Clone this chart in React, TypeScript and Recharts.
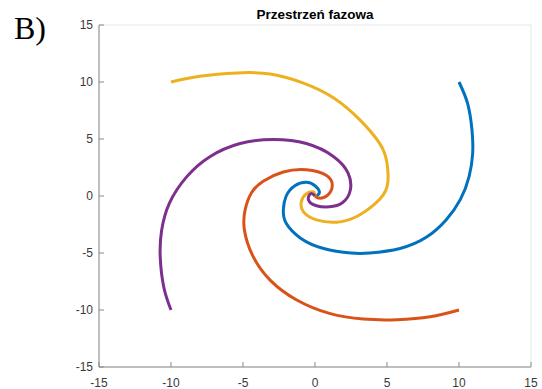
import React from "react";
import {
  LineChart,
  Line,
  XAxis,
  YAxis,
  CartesianGrid,
} from "recharts";

type Pt = { x: number; y: number };

const blueX = [10, 10.6, 10.9, 10.95, 10.7, 10.1, 9.1, 7.75, 5.9, 3.8, 2.5, 0.6, -1.0, -2.0, -2.2, -2.0, -1.4, -0.6, 0.0, 0.3, 0.2, 0];
const blueY = [10, 8.1, 5.8, 3.75, 1.7, -0.3, -2.1, -3.6, -4.6, -5.0, -5.0, -4.6, -3.7, -2.4, -1.2, 0.0, 0.9, 1.2, 0.9, 0.4, 0.1, 0];

const orangeX = [10, 8, 5.7, 3.35, 1.0, -1.3, -3.1, -4.3, -4.9, -4.85, -4.4, -3.6, -2.2, -0.6, 0.8, 1.2, 0.9, 0.35, 0];
const orangeY = [-10, -10.6, -10.85, -10.8, -10.3, -9.1, -7.4, -5.3, -3.0, -1.2, 0.3, 1.3, 2.1, 2.3, 1.8, 0.9, 0.1, -0.2, 0];

const yellowX = [-10, -8, -5.4, -3.1, -0.8, 1.3, 3.1, 4.5, 5.0, 5.0, 4.2, 2.9, 1.5, 0.1, -0.8, -0.95, -0.6, -0.1, 0];
const yellowY = [10, 10.5, 10.8, 10.7, 9.9, 8.6, 6.7, 4.6, 2.9, 0.8, -0.65, -1.8, -2.3, -2.1, -1.4, -0.5, 0.2, 0.35, 0];

const purpleX = [-10, -10.5, -10.75, -10.65, -10.1, -8.9, -7.3, -5.2, -2.9, -0.6, 1.3, 2.3, 2.45, 1.9, 1.0, 0.1, -0.45, -0.3, 0];
const purpleY = [-10, -8, -5.3, -3, -0.6, 1.7, 3.45, 4.6, 4.95, 4.6, 3.45, 2.0, 0.5, -0.6, -0.95, -0.85, -0.35, 0.2, 0];

const ticks = [-15, -10, -5, 0, 5, 10, 15];

const toPts = (xs: number[], ys: number[]): Pt[] =>
  xs.map((x, i) => ({ x, y: ys[i] }));

const series = [
  { name: "blue", color: "#0072BD", data: toPts(blueX, blueY) },
  { name: "orange", color: "#D95319", data: toPts(orangeX, orangeY) },
  { name: "yellow", color: "#EDB120", data: toPts(yellowX, yellowY) },
  { name: "purple", color: "#7E2F8E", data: toPts(purpleX, purpleY) },
];

const axisColor = "#8a8a8a";
const tickFont = { fill: "#3a3a3a", fontSize: 12, fontFamily: "Liberation Sans, Arial, sans-serif" };

export default function App() {
  return (
    <div
      style={{
        position: "absolute",
        left: 0,
        top: 0,
        width: 542,
        height: 389,
        background: "#fff",
      }}
    >
      {/* panel letter */}
      <div
        style={{
          position: "absolute",
          left: 14,
          top: 10,
          fontFamily: "Liberation Serif, Times New Roman, serif",
          fontSize: 32,
          lineHeight: "36px",
          color: "#000",
        }}
      >
        B)
      </div>
      {/* title */}
      <div
        style={{
          position: "absolute",
          left: 99,
          width: 432,
          top: 7,
          textAlign: "center",
          fontFamily: "Liberation Sans, Arial, sans-serif",
          fontWeight: "bold",
          fontSize: 13.5,
          lineHeight: "16px",
          color: "#000",
        }}
      >
        Przestrzeń fazowa
      </div>
      <LineChart
        width={542}
        height={389}
        margin={{ top: 25, right: 11, left: 0, bottom: 0 }}
      >
        <CartesianGrid stroke="#e6e6e6" strokeWidth={1} />
        <XAxis
          xAxisId="b"
          dataKey="x"
          type="number"
          domain={[-15, 15]}
          ticks={ticks}
          height={22}
          allowDataOverflow
          stroke={axisColor}
          tickSize={-5}
          tickMargin={16}
          tick={tickFont}
        />
        <XAxis
          xAxisId="t"
          orientation="top"
          dataKey="x"
          type="number"
          domain={[-15, 15]}
          ticks={ticks}
          height={0}
          stroke={axisColor}
          tickSize={-5}
          tick={false}
        />
        <YAxis
          yAxisId="l"
          dataKey="y"
          type="number"
          domain={[-15, 15]}
          ticks={ticks}
          width={99}
          allowDataOverflow
          stroke={axisColor}
          tickSize={-5}
          tickMargin={11}
          tick={tickFont}
        />
        <YAxis
          yAxisId="r"
          orientation="right"
          dataKey="y"
          type="number"
          domain={[-15, 15]}
          ticks={ticks}
          width={0}
          stroke={axisColor}
          tickSize={-5}
          tick={false}
        />
        {series.map((s) => (
          <Line
            key={s.name}
            xAxisId="b"
            yAxisId="l"
            data={s.data}
            dataKey="y"
            type="natural"
            stroke={s.color}
            strokeWidth={3}
            dot={false}
            activeDot={false}
            isAnimationActive={false}
          />
        ))}
      </LineChart>
    </div>
  );
}
